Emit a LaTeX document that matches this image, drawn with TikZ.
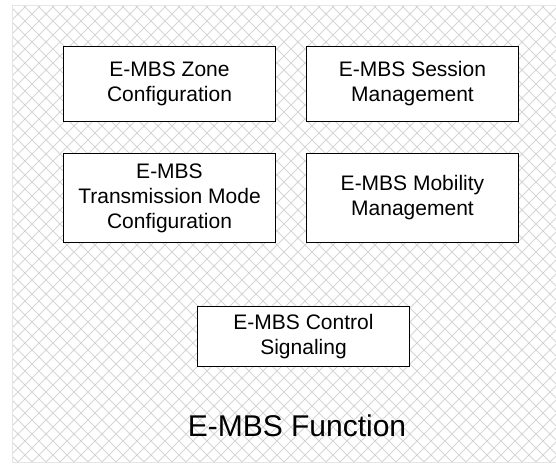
\documentclass[tikz,border=0pt]{standalone}
\usepackage{fontspec}
\setmainfont{Liberation Sans}
\begin{document}
\begin{tikzpicture}[x=1pt,y=-1pt]
  \tikzset{
    hatchline/.style={draw=black!16, line width=0.75pt},
    fnbox/.style={draw=black, line width=1.4pt, fill=white, align=center,
      inner sep=0pt, minimum width=211.5pt,
      font=\fontsize{21}{25}\selectfont},
    titletext/.style={font=\fontsize{30}{34}\selectfont, inner sep=0pt}
  }
  \useasboundingbox (0,0) rectangle (556,470);

  % crosshatched function area
  \fill[white] (12,6) rectangle (556,462);
  \begin{scope}
    \clip (12,6) rectangle (556,462);
    \foreach \k in {-500,-486,...,1080} {
      \draw[hatchline] (\k,0) -- ++(500,500);
      \draw[hatchline] (\k,0) -- ++(-500,500);
    }
  \end{scope}
  \draw[draw=black!10, line width=1pt] (556,6) -- (12,6) -- (12,462) -- (556,462);

  % function blocks
  \node[fnbox, minimum height=74.5pt] (zone)  at (169.5,84)  {E-MBS Zone\\Configuration};
  \node[fnbox, minimum height=74.5pt] (sess)  at (412.5,84)  {E-MBS Session\\Management};
  \node[fnbox, minimum height=89pt]   (trans) at (169.5,198) {E-MBS\\Transmission Mode\\Configuration};
  \node[fnbox, minimum height=89pt]   (mob)   at (412.5,198) {E-MBS Mobility\\Management};
  \node[fnbox, minimum height=59.5pt] (ctrl)  at (303.5,336.5) {E-MBS Control\\Signaling};

  \node[titletext] (title) at (297,426) {E-MBS Function};
\end{tikzpicture}
\end{document}
